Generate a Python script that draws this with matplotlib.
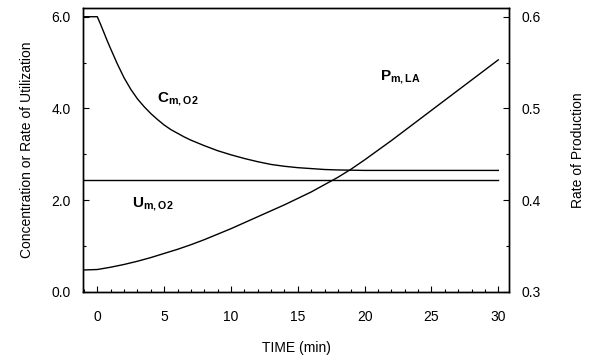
import matplotlib
matplotlib.use("Agg")
import matplotlib.pyplot as plt
from matplotlib.ticker import MultipleLocator

plt.rcParams['font.family'] = ['Liberation Sans', 'DejaVu Sans']
plt.rcParams['mathtext.fontset'] = 'custom'
plt.rcParams['mathtext.bf'] = 'Liberation Sans:bold'
plt.rcParams['mathtext.rm'] = 'Liberation Sans'

# time (min)
t_c = [-1, 0, 0.25, 0.5, 0.75, 1, 1.5, 2, 2.5, 3, 3.5, 4, 4.5, 5, 5.5, 6, 6.5, 7, 7.5,
       8, 9, 10, 11, 12, 13, 14, 15, 16, 17, 18, 20, 25, 30]
# oxygen concentration C_m,O2
c_o2 = [6.0, 6.0, 5.83, 5.65, 5.47, 5.30, 4.97, 4.67, 4.42, 4.21, 4.04, 3.89, 3.76,
        3.64, 3.54, 3.46, 3.38, 3.31, 3.25, 3.19, 3.08, 2.99, 2.91, 2.84, 2.78, 2.74,
        2.71, 2.69, 2.67, 2.66, 2.65, 2.65, 2.65]
# oxygen utilization U_m,O2 (constant)
t_u = [-1, 30]
u_o2 = [2.45, 2.45]
# lactate production P_m,LA (right axis)
t_p = [-1, 0, 1, 2, 3, 4, 5, 6, 7, 8, 9, 10, 11, 12, 13, 14, 15, 16, 17, 18, 19, 20,
       22, 24, 26, 28, 30]
p_la = [0.324, 0.3245, 0.327, 0.330, 0.3335, 0.3375, 0.342, 0.3465, 0.3515, 0.357,
        0.363, 0.369, 0.3755, 0.382, 0.3885, 0.395, 0.402, 0.409, 0.417, 0.425, 0.434,
        0.444, 0.465, 0.487, 0.509, 0.531, 0.553]

fig = plt.figure(figsize=(5.9, 3.56), dpi=100)
ax = fig.add_axes([0.1407, 0.1798, 0.722, 0.7977])
ax2 = ax.twinx()

ax.plot(t_c, c_o2, color='k', lw=1.0)
ax.plot(t_u, u_o2, color='k', lw=1.0)
ax2.plot(t_p, p_la, color='k', lw=1.0)

ax.set_xlim(-1.07, 30.8)
ax.set_ylim(0, 6.19)
ax2.set_ylim(0.3, 0.3 + 0.3 * 6.19 / 6.0)

ax.xaxis.set_major_locator(MultipleLocator(5))
ax.xaxis.set_minor_locator(MultipleLocator(1))
ax.yaxis.set_major_locator(MultipleLocator(2))
ax.yaxis.set_minor_locator(MultipleLocator(1))
ax.yaxis.set_major_formatter(plt.FormatStrFormatter('%.1f'))
ax2.yaxis.set_major_locator(MultipleLocator(0.1))
ax2.yaxis.set_minor_locator(MultipleLocator(0.05))
ax2.yaxis.set_major_formatter(plt.FormatStrFormatter('%.1f'))

ax.tick_params(axis='both', which='major', direction='in', length=4, width=0.8,
               labelsize=10, pad=9)
ax.tick_params(axis='both', which='minor', direction='in', length=2.5, width=0.8)
ax.tick_params(axis='x', which='major', pad=13)
ax2.tick_params(axis='y', which='major', direction='in', length=4, width=0.8,
                labelsize=10, pad=9)
ax2.tick_params(axis='y', which='minor', direction='in', length=2.5, width=0.8)

for a in (ax, ax2):
    for s in a.spines.values():
        s.set_linewidth(1.0)

ax.set_xlabel('TIME (min)', fontsize=10, labelpad=12)
ax.set_ylabel('Concentration or Rate of Utilization', fontsize=10, labelpad=12)
ax2.set_ylabel('Rate of Production', fontsize=10, labelpad=22)

ax.text(4.49, 4.15, r'$\mathbf{C}_{\mathbf{m,O2}}$', fontsize=11, ha='left', va='baseline')
ax.text(2.62, 1.86, r'$\mathbf{U}_{\mathbf{m,O2}}$', fontsize=11, ha='left', va='baseline')
ax.text(21.17, 4.63, r'$\mathbf{P}_{\mathbf{m,LA}}$', fontsize=11, ha='left', va='baseline')

fig.savefig('out.png', dpi=100)
